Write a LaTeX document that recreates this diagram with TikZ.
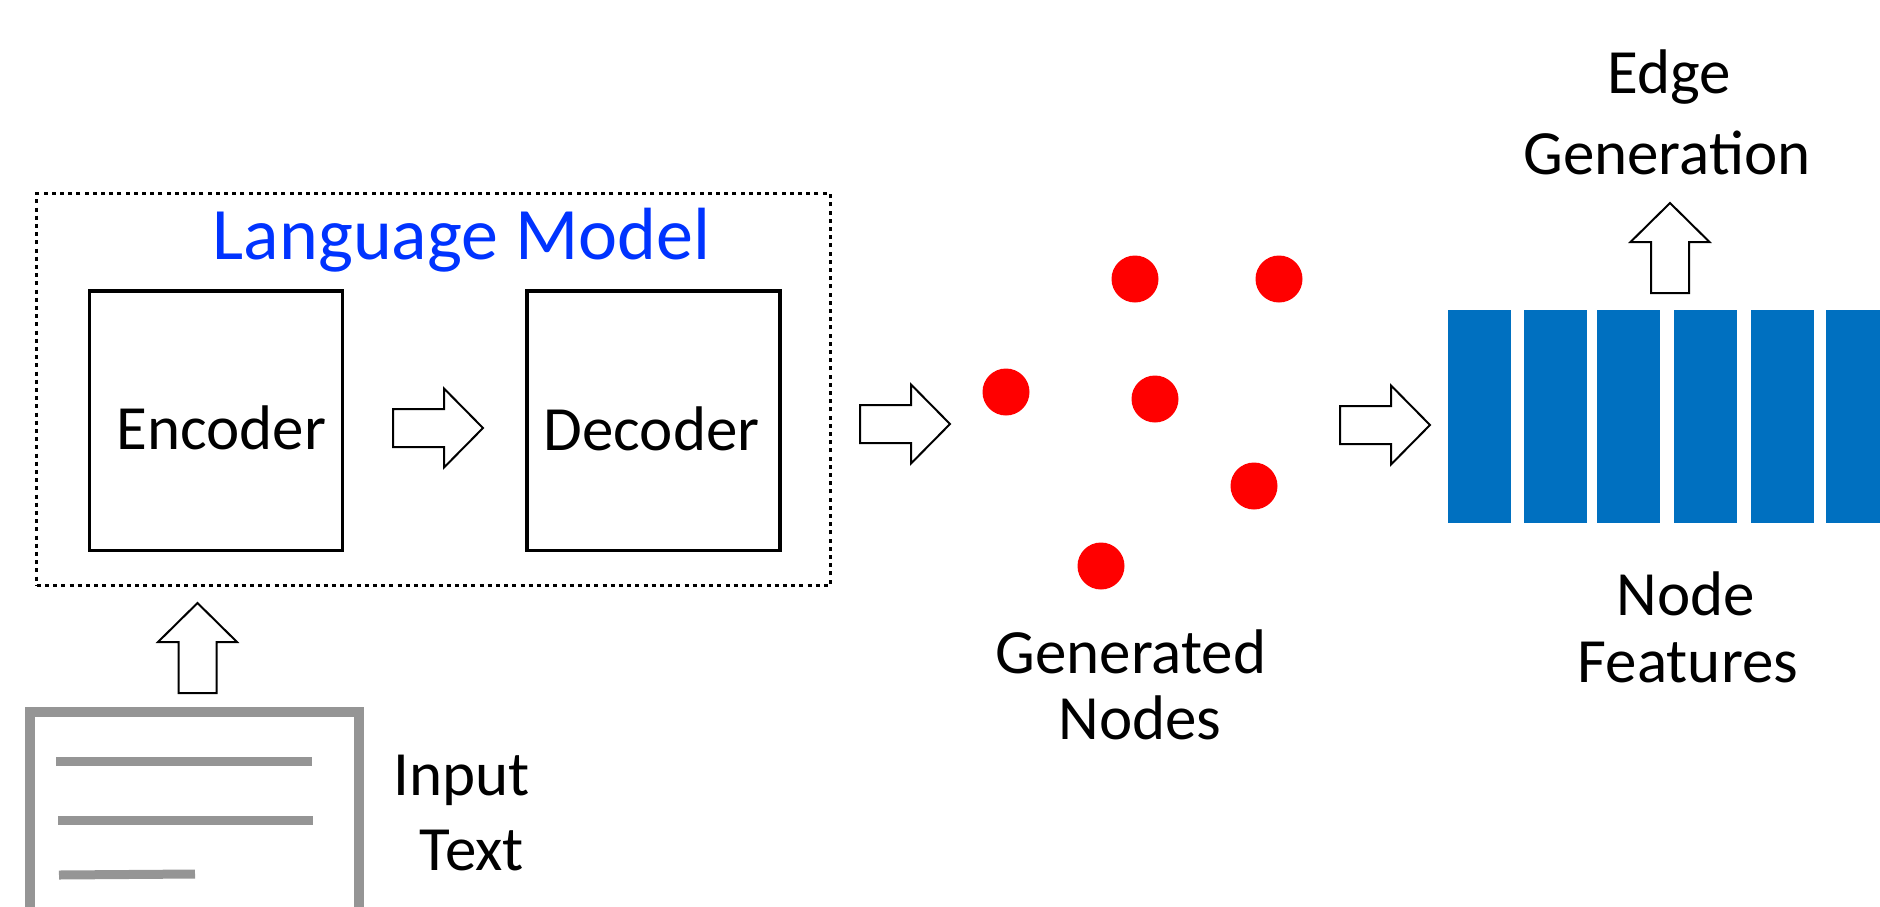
\documentclass[tikz,border=0pt]{standalone}
\usepackage{fontspec}
\setmainfont{Carlito}
\definecolor{lmblue}{RGB}{0,51,255}
\definecolor{barblue}{RGB}{0,112,192}
\definecolor{docgray}{RGB}{149,149,149}
\tikzset{
  blockarrow/.pic={\draw[line width=1pt, fill=white, line join=miter]
     (0,-19) -- (51,-19) -- (51,-39.5) -- (90,0) -- (51,39.5) -- (51,19) -- (0,19) -- cycle;},
  lbl/.style={font=\fontsize{31.5}{38}\selectfont, inner sep=0pt, anchor=base},
  lmlbl/.style={font=\fontsize{37}{44}\selectfont, text=lmblue, inner sep=0pt, anchor=base},
  codebox/.style={draw, line width=1.7pt, minimum width=126.5pt, minimum height=129.7pt, inner sep=0pt},
  lmframe/.style={draw, line width=1.7pt, dash pattern=on 2pt off 2.1pt, minimum width=396.8pt, minimum height=195.8pt, inner sep=0pt},
  docframe/.style={draw=docgray, line width=5pt, minimum width=164.2pt, minimum height=150pt, inner sep=0pt},
  docline/.style={draw=docgray, line width=4.5pt},
  gennode/.style={circle, fill=red, minimum size=23.5pt, inner sep=0pt},
  featbar/.style={fill=barblue, minimum width=31.5pt, minimum height=106.5pt, inner sep=0pt},
}
\begin{document}
\begin{tikzpicture}[x=0.5pt,y=-0.5pt]
\useasboundingbox (0,0) rectangle (1880,906);

% language model frame
\node[lmframe] (lm) at (433.5,389.5) {};
\node[lmlbl] (lmt) at (461.5,259) {Language Model};
\node[codebox] (enc) at (216.25,420.6) {};
\node[codebox] (dec) at (653.6,420.6) {};
\node[lbl] (enct) at (221.5,449) {Encoder};
\node[lbl] (dect) at (651.5,450) {Decoder};

% input document
\node[docframe] (doc) at (194.35,862.3) {};
\coordinate (l1a) at (56,761);  \coordinate (l1b) at (312,761);
\coordinate (l2a) at (58,820);  \coordinate (l2b) at (313,820);
\coordinate (l3a) at (59,875);  \coordinate (l3b) at (195,874);
\draw[docline] (l1a) -- (l1b);
\draw[docline] (l2a) -- (l2b);
\draw[docline] (l3a) -- (l3b);
\node[lbl] (in1) at (462,795) {Input};
\node[lbl] (in2) at (472,870) {Text};

% generated nodes
\foreach \n/\x/\y in {g1/1135/279, g2/1279/279, g3/1006/392, g4/1155/399, g5/1254/486, g6/1101/566}
  \node[gennode] (\n) at (\x,\y) {};
\node[lbl] (gn1) at (1131,673) {Generated};
\node[lbl] (gn2) at (1140,739) {Nodes};

% node features
\foreach \n/\x in {f1/1479.5, f2/1555.5, f3/1628.5, f4/1705.5, f5/1782.5, f6/1857.5}
  \node[featbar] (\n) at (\x,416.5) {};
\node[lbl] (nf1) at (1686,615) {Node};
\node[lbl] (nf2) at (1688,682) {Features};

% edge generation
\node[lbl] (eg1) at (1669,93) {Edge};
\node[lbl] (eg2) at (1667,174) {Generation};

% block arrows
\pic (a1) at (393,428) {blockarrow};
\pic (a2) at (860,424) {blockarrow};
\pic (a3) at (1340,425) {blockarrow};
\pic[rotate=90] (a4) at (197.5,693) {blockarrow};
\pic[rotate=90] (a5) at (1670,293) {blockarrow};
\end{tikzpicture}
\end{document}
